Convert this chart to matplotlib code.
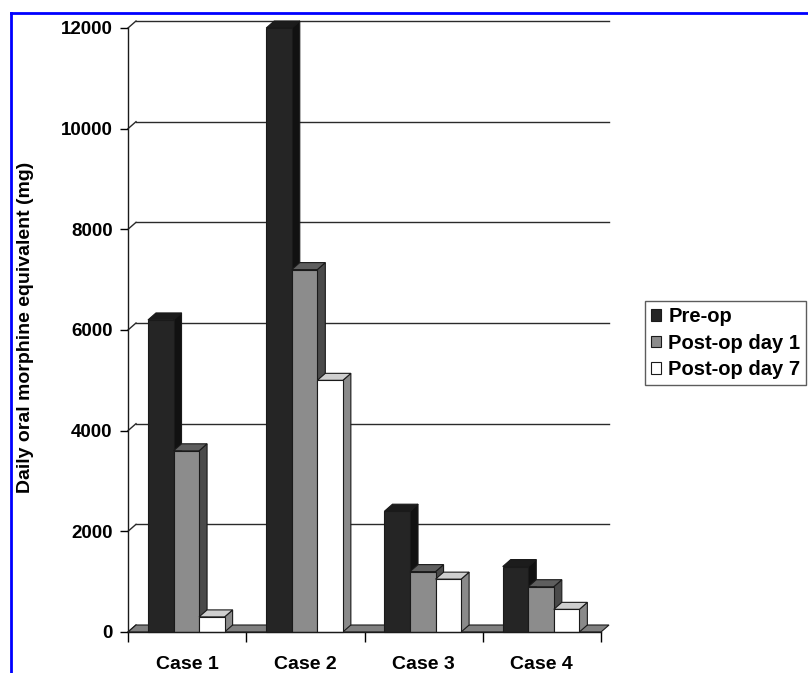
import matplotlib
matplotlib.use("Agg")
import matplotlib.pyplot as plt
from matplotlib.patches import Polygon, Patch
from matplotlib.lines import Line2D

plt.rcParams["font.family"] = ["Liberation Sans", "DejaVu Sans"]
plt.rcParams["font.weight"] = "bold"

cases = ["Case 1", "Case 2", "Case 3", "Case 4"]
series = ["Pre-op", "Post-op day 1", "Post-op day 7"]
pre_op = [6200, 12000, 2400, 1300]
post_day1 = [3600, 7200, 1200, 900]
post_day7 = [300, 5000, 1050, 450]
y_ticks = [0, 2000, 4000, 6000, 8000, 10000, 12000]

# face colours: front, side, top
faces = [
    ("#252525", "#111111", "#1c1c1c"),
    ("#8c8c8c", "#4a4a4a", "#5e5e5e"),
    ("#ffffff", "#8a8a8a", "#cfcfcf"),
]

W, H = 808, 673
fig = plt.figure(figsize=(W / 100, H / 100), dpi=100)
# front plane of the chart in pixels: x 128..601, y 632 (0) .. 28 (12000)
ax = fig.add_axes([128 / W, 1 - 632 / H, (601 - 128) / W, (632 - 28) / H])
ax.set_xlim(0, 4)
ax.set_ylim(0, 12000)

# depth offset of the pseudo-3D box in data units
dx = 8 / ((601 - 128) / 4)
dy = 7 / ((632 - 28) / 12000)

edge = "#1a1a1a"
lw = 0.8

# floor
ax.add_patch(Polygon([(0, 0), (4, 0), (4 + dx, dy), (dx, dy)], closed=True,
                     facecolor="#808080", edgecolor=edge, lw=lw, zorder=1, clip_on=False))

# back-wall gridlines and their short diagonals on the side wall
for v in y_ticks:
    if v > 0:
        ax.plot([dx, 4 + dx], [v + dy, v + dy], color="#2a2a2a", lw=1.0, zorder=0.5, clip_on=False)
    ax.plot([0, dx], [v, v + dy], color="#2a2a2a", lw=1.0, zorder=0.5, clip_on=False)

bar_w = 0.216
first = 0.169
values = [pre_op, post_day1, post_day7]
z = 2
for ci in range(len(cases)):
    for si, vals in enumerate(values):
        h = vals[ci]
        x0 = ci + first + si * bar_w
        x1 = x0 + bar_w
        front, side, top = faces[si]
        ax.add_patch(Polygon([(x1, 0), (x1 + dx, dy), (x1 + dx, h + dy), (x1, h)], closed=True,
                             facecolor=side, edgecolor=edge, lw=lw, zorder=z, clip_on=False))
        ax.add_patch(Polygon([(x0, h), (x1, h), (x1 + dx, h + dy), (x0 + dx, h + dy)], closed=True,
                             facecolor=top, edgecolor=edge, lw=lw, zorder=z, clip_on=False))
        ax.bar(x0, h, width=bar_w, align="edge", color=front, edgecolor=edge, lw=lw,
               zorder=z + 0.1, clip_on=False)
        z += 0.2

for s in ["top", "right"]:
    ax.spines[s].set_visible(False)
for s in ["left", "bottom"]:
    ax.spines[s].set_color("#1a1a1a")
    ax.spines[s].set_linewidth(1.0)
    ax.spines[s].set_zorder(10)

ax.set_yticks(y_ticks)
ax.set_yticklabels([str(v) for v in y_ticks], fontsize=13.5, fontweight="bold")
ax.set_xticks([0, 1, 2, 3, 4])
ax.set_xticklabels([])
ax.set_xticks([0.5, 1.5, 2.5, 3.5], minor=True)
ax.set_xticklabels(cases, minor=True, fontsize=14, fontweight="bold")
ax.tick_params(axis="y", direction="out", length=6, width=1.0, pad=5)
ax.tick_params(axis="x", which="major", direction="out", length=7, width=1.0)
ax.tick_params(axis="x", which="minor", length=0, pad=17)
ax.patch.set_visible(False)

fig.text(26 / W, 1 - 327 / H, "Daily oral morphine equivalent (mg)", rotation=90,
         ha="center", va="center", fontsize=14, fontweight="bold")

handles = [Patch(facecolor=f[0], edgecolor=edge, lw=lw) for f in faces]
leg = fig.legend(handles, series, loc="upper left", bbox_to_anchor=(645 / W, 1 - 301 / H),
                 frameon=True, fancybox=False, shadow=False, borderaxespad=0,
                 handlelength=0.5, handleheight=0.5, handletextpad=0.35,
                 labelspacing=0.38, borderpad=0.3, prop={"size": 14.5, "weight": "bold"})
leg.get_frame().set_edgecolor("#333333")
leg.get_frame().set_linewidth(1.0)

# blue frame along the top and left edges
fig.add_artist(Line2D([11 / W, 1], [1 - 13 / H, 1 - 13 / H], color="#0000ff", lw=2.0,
                      transform=fig.transFigure))
fig.add_artist(Line2D([11 / W, 11 / W], [0, 1 - 13 / H], color="#0000ff", lw=2.0,
                      transform=fig.transFigure))

fig.savefig("out.png", dpi=100)
